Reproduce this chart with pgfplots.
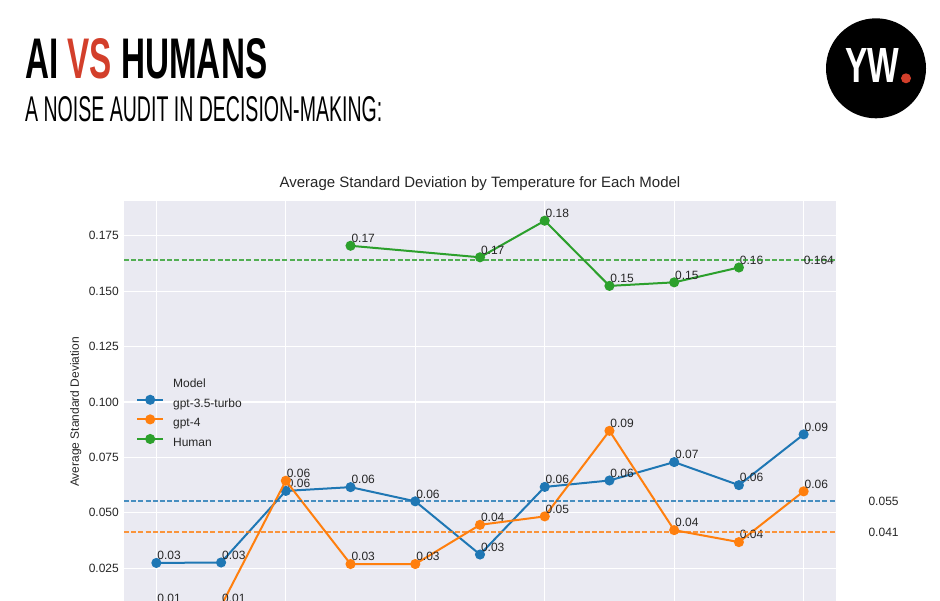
\documentclass[border=0pt]{standalone}
\usepackage{fontspec}
\setmainfont{Liberation Sans}
\usepackage{graphicx}
\usepackage{pgfplots}
\pgfplotsset{compat=1.18}
\pgfplotsset{/pgf/number format/assume math mode=true}
\definecolor{bg}{HTML}{EAEAF2}
\definecolor{tblue}{HTML}{1F77B4}
\definecolor{torange}{HTML}{FF7F0E}
\definecolor{tgreen}{HTML}{2CA02C}
\definecolor{txt}{HTML}{262626}
\definecolor{ywred}{HTML}{D33F2B}
\newcommand{\f}[1]{\fontsize{#1}{#1}\selectfont}
\begin{document}
\begin{tikzpicture}
\path[use as bounding box] (0pt,0pt) rectangle (940pt,-600pt);
\clip (0pt,0pt) rectangle (940pt,-600pt);
\fill[white] (0pt,0pt) rectangle (940pt,-600pt);
% header
\node[anchor=south west, inner sep=0pt] at (25pt,-79pt) {\resizebox{242pt}{40pt}{\bfseries AI \textcolor{ywred}{VS} HUMANS}};
\node[anchor=south west, inner sep=0pt] at (25pt,-121.7pt) {\resizebox{357pt}{25pt}{A NOISE AUDIT IN DECISION-MAKING:}};
% logo
\fill[black] (876pt,-68.3pt) circle (50pt);
\node[anchor=south west, inner sep=0pt, text=white] at (845pt,-83pt) {\resizebox{54pt}{34pt}{\bfseries YW}};
\fill[ywred] (906pt,-78.3pt) circle (5pt);
\begin{axis}[
  at={(124pt,-201pt)}, anchor=north west,
  scale only axis, width=712pt, height=422pt,
  xmin=-0.05, xmax=1.05, ymin=0.0003, ymax=0.1907,
  axis background/.style={fill=bg},
  axis line style={draw=none},
  major tick length=0pt,
  grid=major, grid style={white, line width=1.2pt},
  xtick={0,0.2,0.4,0.6,0.8,1.0},
  ytick={0,0.025,0.05,0.075,0.1,0.125,0.15,0.175},
  scaled y ticks=false, scaled x ticks=false,
  tick label style={font=\f{12}, text=txt},
  yticklabel style={inner sep=0pt, xshift=-5pt, /pgf/number format/fixed, /pgf/number format/fixed zerofill, /pgf/number format/precision=3},
  xticklabel style={/pgf/number format/fixed, /pgf/number format/fixed zerofill, /pgf/number format/precision=1},
  ylabel={Average Standard Deviation},
  ylabel style={at={(axis description cs:-0.0678,0.5)}, anchor=center, font=\f{12}, text=txt},
  title={Average Standard Deviation by Temperature for Each Model},
  title style={at={(axis description cs:0.5,1)}, anchor=base, inner sep=0pt, yshift=8pt, font=\f{15}, text=txt},
  clip mode=individual,
  legend style={at={(0.01685,0.5799)}, anchor=north west, draw=none, fill=none, inner sep=0pt,
    font=\f{12}, text=txt, row sep=5.3pt, column sep=8.9pt,
    nodes={inner sep=0pt, text height=9pt, text depth=3pt}},
  legend cell align=left,
  legend image code/.code={\draw[mark repeat=2,mark phase=2] plot coordinates {(0pt,4.3pt) (13pt,4.3pt) (26pt,4.3pt)};},
  lab/.style={nodes near coords={\pgfmathprintnumber[fixed,fixed zerofill,precision=2]{\pgfplotspointmeta}},
    point meta=y,
    nodes near coords align={anchor=base west},
    every node near coord/.append style={font=\f{12}, text=txt, inner sep=0pt, anchor=base west, yshift=3.3pt}},
  dat/.style={line width=2pt, mark=*, mark size=4pt, mark options={solid}},
  mean/.style={line width=1.3pt, dash pattern=on 5pt off 2.2pt, opacity=0.8, forget plot},
]
\addlegendimage{empty legend}\addlegendentry{Model}
\addplot[tblue, dat, lab] coordinates {
(0,0.0274) (0.1,0.0276) (0.2,0.0599) (0.3,0.0616) (0.4,0.0552) (0.5,0.0312)
(0.6,0.0617) (0.7,0.0646) (0.8,0.0729) (0.9,0.0625) (1.0,0.0854)};
\addlegendentry{gpt-3.5-turbo}
\addplot[torange, dat, lab] coordinates {
(0,0.0080) (0.1,0.0080) (0.2,0.0645) (0.3,0.0269) (0.4,0.0269) (0.5,0.0446)
(0.6,0.0484) (0.7,0.0870) (0.8,0.0422) (0.9,0.0368) (1.0,0.0597)};
\addlegendentry{gpt-4}
\addplot[tgreen, dat, lab] coordinates {
(0.3,0.1705) (0.5,0.1653) (0.6,0.1818) (0.7,0.1524) (0.8,0.1540) (0.9,0.1607)};
\addlegendentry{Human}
\addplot[tblue, mean] coordinates {(-0.05,0.0554) (1.05,0.0554)};
\addplot[torange, mean] coordinates {(-0.05,0.0414) (1.05,0.0414)};
\addplot[tgreen, mean] coordinates {(-0.05,0.1641) (1.05,0.1641)};
\node[anchor=west, inner sep=0pt, font=\f{12}, text=txt] at (axis cs:1.1,0.0554) {0.055};
\node[anchor=west, inner sep=0pt, font=\f{12}, text=txt] at (axis cs:1.1,0.0414) {0.041};
\node[anchor=west, inner sep=0pt, font=\f{12}, text=txt] at (axis cs:1.0,0.1641) {0.164};
\end{axis}
\end{tikzpicture}
\end{document}
